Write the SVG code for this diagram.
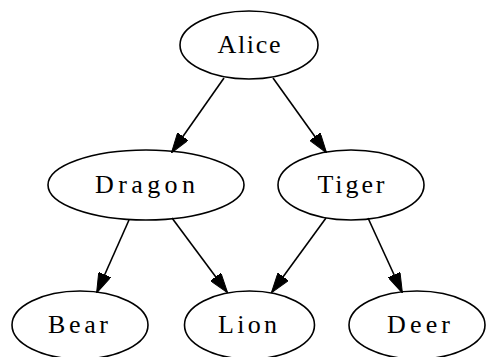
<svg xmlns="http://www.w3.org/2000/svg" width="489" height="357" viewBox="0 0 489 357">
<defs>
<style>
.node ellipse{fill:none;stroke:#000;stroke-width:1.6}
.node text{font-family:"Liberation Serif","Times New Roman",serif;font-size:26px;fill:#000;text-anchor:middle}
.edge{stroke:#000;stroke-width:1.6;fill:none;marker-end:url(#ah)}
</style>
<marker id="ah" viewBox="0 0 20 13" refX="19" refY="6.5" markerWidth="20" markerHeight="13" orient="auto" markerUnits="userSpaceOnUse">
<path d="M0,0 L20,6.5 L0,13 z" fill="#000" stroke="#000" stroke-width="1"/>
</marker>
</defs>
<rect width="489" height="357" fill="#fff"/>
<g id="connectors">
<line class="edge" x1="224" y1="78" x2="172" y2="152"/>
<line class="edge" x1="273" y1="78" x2="326" y2="152"/>
<line class="edge" x1="129" y1="220" x2="97" y2="292"/>
<line class="edge" x1="172" y1="218" x2="227" y2="292"/>
<line class="edge" x1="326" y1="218" x2="272" y2="292"/>
<line class="edge" x1="368" y1="218" x2="402" y2="292"/>
</g>
<g id="Alice" class="node"><ellipse cx="249" cy="45" rx="69" ry="34"/><text x="249" y="53" textLength="63" lengthAdjust="spacing">Alice</text></g>
<g id="Dragon" class="node"><ellipse cx="146" cy="185" rx="98" ry="35"/><text x="145" y="193" textLength="100" lengthAdjust="spacing">Dragon</text></g>
<g id="Tiger" class="node"><ellipse cx="351" cy="185" rx="73" ry="35"/><text x="351" y="193" textLength="67" lengthAdjust="spacing">Tiger</text></g>
<g id="Bear" class="node"><ellipse cx="80" cy="325" rx="68" ry="34"/><text x="78" y="333" textLength="60" lengthAdjust="spacing">Bear</text></g>
<g id="Lion" class="node"><ellipse cx="249.5" cy="325" rx="65" ry="34"/><text x="247.5" y="333" textLength="59" lengthAdjust="spacing">Lion</text></g>
<g id="Deer" class="node"><ellipse cx="417" cy="325" rx="68" ry="34"/><text x="418.5" y="333" textLength="63" lengthAdjust="spacing">Deer</text></g>
</svg>
